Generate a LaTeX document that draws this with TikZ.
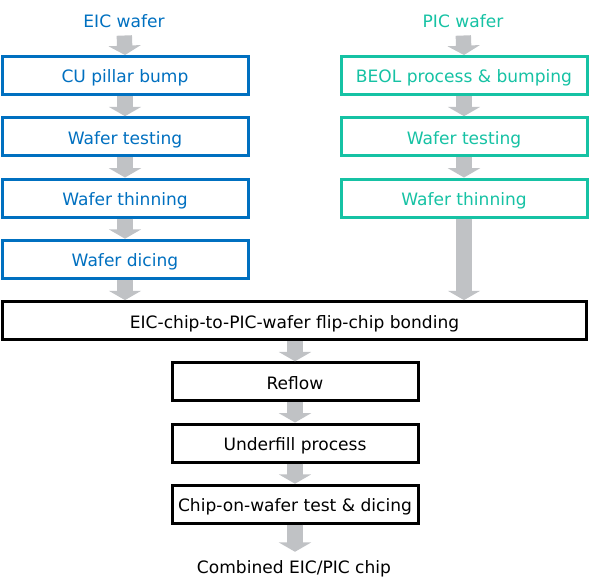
\documentclass[tikz,border=0pt]{standalone}
\usepackage{fontspec}
\setmainfont{DejaVu Sans}
\usetikzlibrary{arrows.meta}
\definecolor{eicblue}{RGB}{0,112,192}
\definecolor{picteal}{RGB}{22,194,164}
\definecolor{arrowgray}{RGB}{192,194,197}
\tikzset{
  every node/.style={font=\fontsize{12.8}{15}\selectfont},
  stepbox/.style={draw, line width=2.25pt, minimum width=184.5pt, minimum height=28.5pt, inner sep=0pt, text height=12pt, text depth=0.8pt, fill=white},
  eicbox/.style={stepbox, draw=eicblue, text=eicblue},
  picbox/.style={stepbox, draw=picteal, text=picteal},
  blackbox/.style={stepbox, draw=black, text=black},
  garrow/.style={draw=arrowgray, line width=11.5pt, -{Triangle[length=7pt, width=24pt]}},
}
\begin{document}
\begin{tikzpicture}[x=0.75pt,y=-0.75pt]
\useasboundingbox (0,0) rectangle (589,587);
% titles
\node[text=eicblue, inner sep=0pt, anchor=base] (eic) at (124,27) {EIC wafer};
\node[text=picteal, inner sep=0pt, anchor=base] (pic) at (463,27) {PIC wafer};
% left column
\node[eicbox] (l1) at (125,75.5) {CU pillar bump};
\node[eicbox] (l2) at (125,136.7) {Wafer testing};
\node[eicbox] (l3) at (125,198) {Wafer thinning};
\node[eicbox] (l4) at (125,259.2) {Wafer dicing};
% right column
\node[picbox] (r1) at (464,75.5) {BEOL process \& bumping};
\node[picbox] (r2) at (464,136.7) {Wafer testing};
\node[picbox] (r3) at (464,198) {Wafer thinning};
% merged
\node[blackbox, minimum width=438pt] (bond) at (294.5,320.6) {EIC-chip-to-PIC-wafer flip-chip bonding};
\node[blackbox] (c1) at (295,381.8) {Reflow};
\node[blackbox] (c2) at (295,443) {Underfill process};
\node[blackbox] (c3) at (295,504.2) {Chip-on-wafer test \& dicing};
\node[inner sep=0pt, anchor=base] (out) at (294,573) {Combined EIC/PIC chip};
% arrows
\draw[garrow, shorten <=6pt] (eic.south) -- (l1.north);
\draw[garrow] (l1.south) -- (l2.north);
\draw[garrow] (l2.south) -- (l3.north);
\draw[garrow] (l3.south) -- (l4.north);
\draw[garrow] (l4.south) -- (l4.south |- bond.north);
\draw[garrow, shorten <=6pt] (pic.south) -- (r1.north);
\draw[garrow] (r1.south) -- (r2.north);
\draw[garrow] (r2.south) -- (r3.north);
\draw[garrow] (r3.south) -- (r3.south |- bond.north);
\draw[garrow] (c1.north |- bond.south) -- (c1.north);
\draw[garrow] (c1.south) -- (c2.north);
\draw[garrow] (c2.south) -- (c3.north);
\draw[garrow, shorten >=6pt] (c3.south) -- (c3.south |- out.north);
\end{tikzpicture}
\end{document}
